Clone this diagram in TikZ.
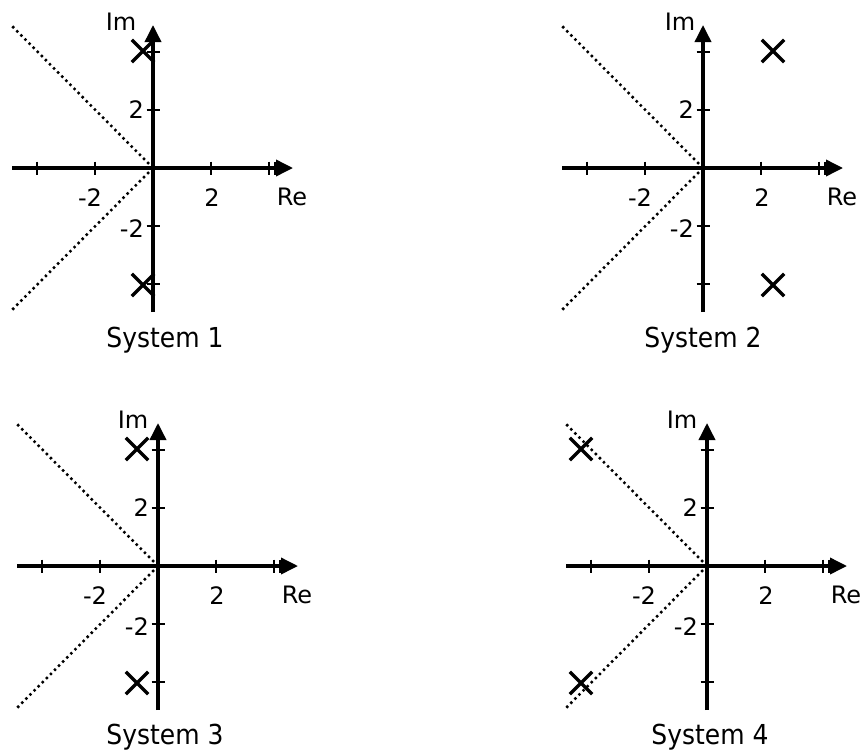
\documentclass[tikz,border=0pt]{standalone}
\usepackage{fontspec}
\setmainfont{DejaVu Sans}
\usetikzlibrary{arrows.meta,shapes.misc}
\tikzset{
  axisline/.style={line width=3.6pt, -{Triangle[length=17pt,width=16pt]}},
  tickmark/.style={line width=2.8pt},
  guide/.style={line width=2.5pt, dash pattern=on 2.4pt off 3.4pt},
  pole/.style={cross out, draw, line width=3.4pt, minimum size=19pt, inner sep=0pt},
  lab/.style={font=\fontsize{24}{28}\selectfont, inner sep=0pt},
  title/.style={font=\fontsize{25}{30}\selectfont, inner sep=0pt, anchor=base, yscale=1.1},
}
\newcommand\pzplane[5]{%
\begin{scope}[shift={(#2,#3)}]
  \coordinate (#1o) at (0,0);
  \coordinate (#1l) at (-141,0);
  \coordinate (#1r) at (140,0);
  \coordinate (#1t) at (0,-143);
  \coordinate (#1b) at (0,144);
  \coordinate (#1u) at (-141,-142);
  \coordinate (#1d) at (-141,142);
  \draw[guide] (#1o) -- (#1u);
  \draw[guide] (#1o) -- (#1d);
  \draw[axisline] (#1l) -- (#1r);
  \draw[axisline] (#1b) -- (#1t);
  \foreach \k in {-116,-58,58,116}{
    \draw[tickmark] (\k,-6.5) -- (\k,6.5);
    \draw[tickmark] (-6.5,\k) -- (6.5,\k);}
  \draw[tickmark] (122,-6.5) -- (122,6.5);
  \node[lab] (#1xm) at (-63,30) {-2};
  \node[lab] (#1xp) at (59,30) {2};
  \node[lab,anchor=east] (#1yp) at (-9,-58) {2};
  \node[lab,anchor=east] (#1ym) at (-9,61) {-2};
  \node[lab] (#1re) at (139,29) {Re};
  \node[lab] (#1im) at (#4,-146) {Im};
  \node[pole] (#1p) at (#5,-117) {};
  \node[pole] (#1q) at (#5,117) {};
\end{scope}}
\begin{document}
\begin{tikzpicture}[x=1pt,y=-1pt]
\useasboundingbox (0,0) rectangle (861,750);
\pzplane{a}{153}{168}{-32}{-10}
\pzplane{b}{703}{168}{-23}{70}
\pzplane{c}{158}{566}{-25}{-21}
\pzplane{d}{707}{566}{-25}{-126}
\node[title] (ta) at (165,347) {System 1};
\node[title] (tb) at (703,347) {System 2};
\node[title] (tc) at (165,744) {System 3};
\node[title] (td) at (710,744) {System 4};
\end{tikzpicture}
\end{document}
